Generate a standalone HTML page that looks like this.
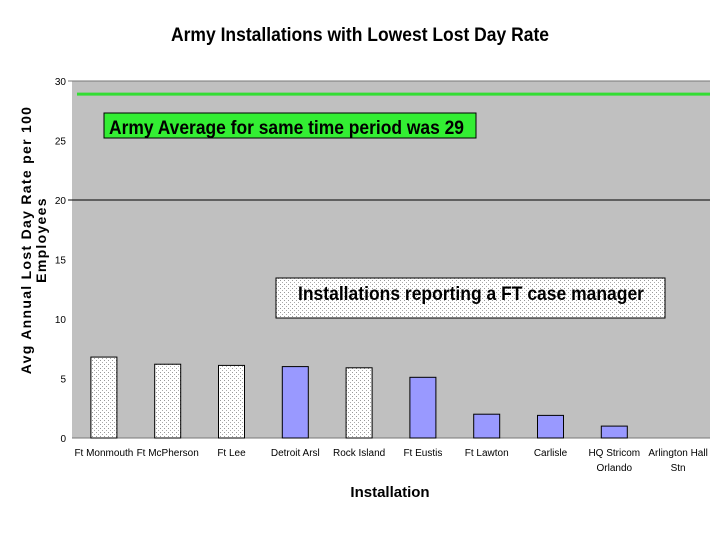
<!DOCTYPE html>
<html><head><meta charset="utf-8"><style>
body{margin:0;background:#fff;width:720px;height:540px;overflow:hidden}
text{font-family:"Liberation Sans",sans-serif}
</style></head><body>
<svg id="c" width="720" height="540">
<defs>
<pattern id="dots" width="4" height="4" patternUnits="userSpaceOnUse">
<rect width="4" height="4" fill="#fff"/><rect x="0" y="0" width="1" height="1" fill="#999"/><rect x="2" y="2" width="1" height="1" fill="#aaa"/>
</pattern>
</defs>
<text x="171" y="41" textLength="378" lengthAdjust="spacingAndGlyphs" font-size="19" font-weight="bold">Army Installations with Lowest Lost Day Rate</text>
<rect x="72" y="81" width="638" height="357" fill="#c0c0c0"/>
<g id="grid"></g><g id="bars"></g><g id="labels"></g>
<line id="avg" stroke="#33dd33" stroke-width="3"/>
<rect x="104" y="113" width="372" height="25" fill="#33ee33" stroke="#000"/>
<text x="109" y="134" textLength="355" lengthAdjust="spacingAndGlyphs" font-size="19" font-weight="bold">Army Average for same time period was 29</text>
<rect x="276" y="278" width="389" height="40" fill="url(#dots)" stroke="#000"/>
<text x="298" y="300" textLength="346" lengthAdjust="spacingAndGlyphs" font-size="19" font-weight="bold">Installations reporting a FT case manager</text>
<text transform="translate(31,240) rotate(-90)" text-anchor="middle" font-size="14" font-weight="bold" letter-spacing="1.3"><tspan x="0" y="0">Avg Annual Lost Day Rate per 100</tspan><tspan x="0" y="15">Employees</tspan></text>
<text x="390" y="497" text-anchor="middle" font-size="15" font-weight="bold">Installation</text>
</svg>
<script>
const categories=["Ft Monmouth","Ft McPherson","Ft Lee","Detroit Arsl","Rock Island","Ft Eustis","Ft Lawton","Carlisle","HQ Stricom|Orlando","Arlington Hall|Stn"];
const values=[6.8,6.2,6.1,6.0,5.9,5.1,2.0,1.9,1.0,0];
const hasCaseManager=[true,true,true,false,true,false,false,false,false,false];
const yTicks=[0,5,10,15,20,25,30];
const armyAverage=28.9;
const NS="http://www.w3.org/2000/svg";
const L=72,R=710,T=81,B=438,ymax=30;
const y=v=>B-(v/ymax)*(B-T);
const bw=(R-L)/categories.length;
const x=i=>L+bw*i+bw/2;
function mk(tag,attrs,parent){const e=document.createElementNS(NS,tag);for(const k in attrs)e.setAttribute(k,attrs[k]);document.getElementById(parent).appendChild(e);return e;}
yTicks.forEach(t=>{
 const tx=mk('text',{x:L-6,y:y(t)+4,'text-anchor':'end','font-size':10},'labels');tx.textContent=t;
 
 
 if(t===20||t===30){const g=mk('line',{x1:L-4,x2:R,y1:y(t),y2:y(t),stroke:t===30?'#777':'#000','stroke-width':1},'grid');
 
 }
});
const ax=mk('line',{x1:L,x2:R,y1:B,y2:B,stroke:'#777'},'grid');


categories.forEach((c,i)=>{
 const w=26;
 if(values[i]>0){const r=mk('rect',{x:x(i)-w/2,y:y(values[i]),width:w,height:B-y(values[i]),fill:hasCaseManager[i]?'url(#dots)':'#9999ff',stroke:'#000','stroke-width':1},'bars');
 
 }
 const parts=c.split('|');
 parts.forEach((p,j)=>{const t=mk('text',{x:x(i),y:456+j*15,'text-anchor':'middle','font-size':10},'labels');t.textContent=p;
 
 });
});
const a=document.getElementById('avg');
a.setAttribute('x1',L+5);a.setAttribute('x2',R);a.setAttribute('y1',y(armyAverage));a.setAttribute('y2',y(armyAverage));
</script>
</body></html>
